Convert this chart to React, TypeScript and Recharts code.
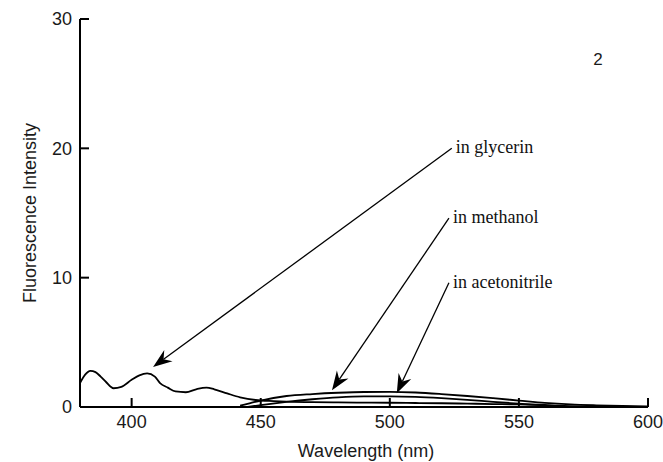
import React from 'react';
import { LineChart, Line, XAxis, YAxis, ReferenceLine, ReferenceDot } from 'recharts';

// glycerin spectrum (nm / intensity)
const glycerinNm = [380, 382, 384, 386, 388, 390, 393, 396, 400, 403, 406, 409, 411, 414, 417, 421, 425, 429, 432, 437, 442, 448, 455, 460, 470, 480, 490, 500, 510, 520, 530, 540, 550, 560, 565, 570, 580, 590, 600];
const glycerinVal = [1.85, 2.5, 2.8, 2.7, 2.35, 1.95, 1.45, 1.55, 2.1, 2.45, 2.6, 2.35, 1.85, 1.5, 1.2, 1.14, 1.37, 1.5, 1.37, 1.05, 0.75, 0.54, 0.46, 0.42, 0.37, 0.35, 0.34, 0.33, 0.31, 0.29, 0.26, 0.23, 0.2, 0.16, 0.1, 0.06, 0.03, 0.02, 0.01];

// methanol spectrum
const methanolNm = [442, 446, 450, 460, 470, 480, 490, 500, 510, 520, 530, 540, 550, 560, 570, 580, 590, 600];
const methanolVal = [0.1, 0.3, 0.5, 0.85, 1.0, 1.1, 1.16, 1.17, 1.12, 1.0, 0.85, 0.68, 0.5, 0.32, 0.2, 0.13, 0.08, 0.05];

// acetonitrile spectrum
const acetonitrileNm = [445, 450, 460, 470, 480, 490, 500, 510, 520, 530, 540, 550, 560, 565, 570];
const acetonitrileVal = [0.0, 0.15, 0.4, 0.6, 0.75, 0.82, 0.82, 0.78, 0.68, 0.55, 0.4, 0.26, 0.12, 0.05, 0.0];

const xTicks = [400, 450, 500, 550, 600];
const yTicks = [0, 10, 20, 30];

// annotation arrows: label position -> arrow tip
const annotations = [
  { text: 'in glycerin', from: [524, 20], to: [408.3, 3.1] },
  { text: 'in methanol', from: [522.9, 14.6], to: [477.6, 1.3] },
  { text: 'in acetonitrile', from: [522.9, 9.6], to: [502.7, 1.06] },
];

const panelLabel = { text: '2', x: 580.6, y: 26.9 };

const toPoints = (xs: number[], ys: number[]) => xs.map((x, i) => ({ x, y: ys[i] }));

const glycerin = toPoints(glycerinNm, glycerinVal);
const methanol = toPoints(methanolNm, methanolVal);
const acetonitrile = toPoints(acetonitrileNm, acetonitrileVal);

const sans = '"Liberation Sans", Arial, sans-serif';
const serif = '"Liberation Serif", "Times New Roman", serif';

const arrowShape = (text: string) => (p: any) => {
  const { x1, y1, x2, y2 } = p;
  const dx = x2 - x1;
  const dy = y2 - y1;
  const len = Math.sqrt(dx * dx + dy * dy) || 1;
  const ux = dx / len;
  const uy = dy / len;
  const nx = -uy;
  const ny = ux;
  const L = 19;
  const W = 7;
  const bx = x2 - ux * L;
  const by = y2 - uy * L;
  const notchX = x2 - ux * 13;
  const notchY = y2 - uy * 13;
  const pts = [
    [x2, y2],
    [bx + nx * W, by + ny * W],
    [notchX, notchY],
    [bx - nx * W, by - ny * W],
  ].map(q => q.join(',')).join(' ');
  return (
    <g>
      <line x1={x1} y1={y1} x2={notchX} y2={notchY} stroke="#000" strokeWidth={1.3} />
      <polygon points={pts} fill="#000" />
      <text x={x1 + 4} y={y1 + 5} fontFamily={serif} fontSize={18} fill="#111">{text}</text>
    </g>
  );
};

const App: React.FC = () => {
  return (
    <div style={{ position: 'absolute', left: 0, top: 0, background: '#fff' }}>
      <LineChart width={663} height={462} margin={{ top: 19, right: 15, bottom: 0, left: 0 }}>
        <XAxis
          type="number"
          dataKey="x"
          domain={[380, 600]}
          ticks={xTicks}
          allowDataOverflow
          height={55}
          tickSize={-9}
          tickMargin={17}
          axisLine={{ stroke: '#000', strokeWidth: 2 }}
          tickLine={{ stroke: '#000', strokeWidth: 2 }}
          tick={{ fill: '#1a1a1a', fontSize: 18, fontFamily: sans }}
          label={{
            content: ({ viewBox }: any) => (
              <text
                x={viewBox.x + viewBox.width / 2 + 2}
                y={viewBox.y + 50}
                textAnchor="middle"
                fontFamily={sans}
                fontSize={18}
                fill="#1a1a1a"
              >
                Wavelength (nm)
              </text>
            ),
          }}
        />
        <YAxis
          type="number"
          dataKey="y"
          domain={[0, 30]}
          ticks={yTicks}
          width={80}
          tickSize={-9}
          tickMargin={17}
          axisLine={{ stroke: '#000', strokeWidth: 2 }}
          tickLine={{ stroke: '#000', strokeWidth: 2 }}
          tick={{ fill: '#1a1a1a', fontSize: 18, fontFamily: sans }}
          label={{
            content: ({ viewBox }: any) => {
              const cx = viewBox.x + 30;
              const cy = viewBox.y + viewBox.height / 2;
              return (
                <text
                  x={cx}
                  y={cy}
                  transform={`rotate(-90 ${cx} ${cy})`}
                  textAnchor="middle"
                  dominantBaseline="central"
                  fontFamily={sans}
                  fontSize={18}
                  fill="#1a1a1a"
                >
                  Fluorescence Intensity
                </text>
              );
            },
          }}
        />
        <Line data={glycerin} dataKey="y" type="monotone" stroke="#000" strokeWidth={1.8} dot={false} isAnimationActive={false} />
        <Line data={methanol} dataKey="y" type="monotone" stroke="#000" strokeWidth={1.8} dot={false} isAnimationActive={false} />
        <Line data={acetonitrile} dataKey="y" type="monotone" stroke="#000" strokeWidth={1.8} dot={false} isAnimationActive={false} />
        {annotations.map(a => (
          <ReferenceLine
            key={a.text}
            segment={[{ x: a.from[0], y: a.from[1] }, { x: a.to[0], y: a.to[1] }]}
            shape={arrowShape(a.text)}
          />
        ))}
        <ReferenceDot
          x={panelLabel.x}
          y={panelLabel.y}
          r={0}
          shape={(p: any) => (
            <text x={p.cx} y={p.cy} textAnchor="middle" dominantBaseline="central" fontFamily={sans} fontSize={17} fill="#1a1a1a">
              {panelLabel.text}
            </text>
          )}
        />
      </LineChart>
    </div>
  );
};

export default App;
